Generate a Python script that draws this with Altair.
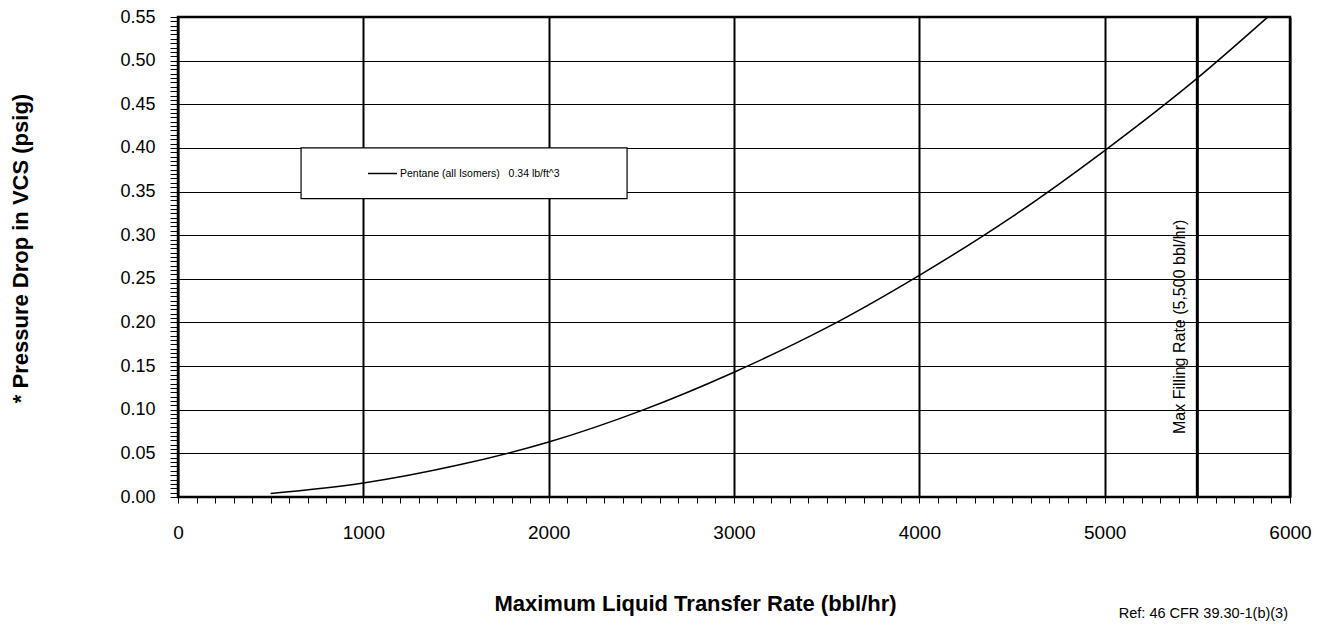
import altair as alt
import pandas as pd

# ---- data ----
RATE = [500, 1000, 1500, 2000, 2500, 3000, 3500, 4000, 4500, 5000, 5500, 5880]
PDROP = [0.004, 0.016, 0.036, 0.063, 0.099, 0.143, 0.194, 0.254, 0.321, 0.397, 0.480, 0.550]
SERIES = "Pentane (all Isomers)\u00a0\u00a0 0.34 lb/ft^3"

MAX_RATE = [5500]
MAX_LABEL = ["Max Filling Rate (5,500 bbl/hr)"]
MAX_LABEL_Y = [0.195]

LEGEND_BOX_RATE = [664, 2423]
LEGEND_BOX_PDROP = [0.342, 0.400]

X_TICKS = list(range(0, 6001, 100))
Y_TICKS = [round(i * 0.005, 3) for i in range(0, 111)]

X_TITLE = "Maximum Liquid Transfer Rate (bbl/hr)"
Y_TITLE = "* Pressure Drop in VCS (psig)"
REF_TEXT = ["Ref: 46 CFR 39.30-1(b)(3)"]

FONT = "Liberation Sans"

curve_df = pd.DataFrame({"rate": RATE, "pdrop": PDROP, "series": [SERIES] * len(RATE)})
box_df = pd.DataFrame({"rate": [LEGEND_BOX_RATE[0]], "rate2": [LEGEND_BOX_RATE[1]],
                       "pdrop": [LEGEND_BOX_PDROP[0]], "pdrop2": [LEGEND_BOX_PDROP[1]]})
rule_df = pd.DataFrame({"rate": MAX_RATE, "pdrop": MAX_LABEL_Y, "label": MAX_LABEL})
ref_df = pd.DataFrame({"label": REF_TEXT})

x_scale = alt.Scale(domain=[0, 6000], nice=False, zero=False)
y_scale = alt.Scale(domain=[0, 0.55], nice=False, zero=False)

x_axis = alt.Axis(
    values=X_TICKS, format="d",
    labelExpr="datum.value % 1000 === 0 ? datum.label : ''",
    labelOverlap=False, labelFlush=False,
    labelFont=FONT, labelFontSize=19, labelColor="black", labelPadding=20,
    tickSize=6, tickColor="black", tickWidth=1,
    grid=True, gridColor="black", gridWidth=2,
    gridOpacity={"condition": {"test": "datum.value % 1000 === 0", "value": 1}, "value": 0},
    domain=False,
    title=X_TITLE, titleFont=FONT, titleFontSize=22, titleFontWeight="bold",
    titleColor="black", titleX=517, titleY=106, titleAlign="center", titleBaseline="middle",
)
y_axis = alt.Axis(
    values=Y_TICKS, format=".2f",
    labelExpr="abs(datum.value * 20 - round(datum.value * 20)) < 1e-6 ? datum.label : ''",
    labelOverlap=False, labelFlush=False,
    labelFont=FONT, labelFontSize=18, labelColor="black", labelPadding=15,
    tickSize=8, tickColor="black", tickWidth=1,
    grid=True, gridColor="black", gridWidth=1,
    gridOpacity={"condition": {"test": "abs(datum.value * 20 - round(datum.value * 20)) < 1e-6", "value": 1}, "value": 0},
    domain=False,
    title=Y_TITLE, titleFont=FONT, titleFontSize=22, titleFontWeight="bold",
    titleColor="black", titleX=-158, titleY=231, titleAngle=270,
    titleAlign="center", titleBaseline="middle",
)

box = alt.Chart(box_df).mark_rect(fill="white", stroke="black", strokeWidth=1.2).encode(
    x=alt.X("rate:Q", scale=x_scale, axis=x_axis),
    x2="rate2:Q",
    y=alt.Y("pdrop:Q", scale=y_scale, axis=y_axis),
    y2="pdrop2:Q",
)

curve = alt.Chart(curve_df).mark_line(strokeWidth=1.5, interpolate="monotone").encode(
    x=alt.X("rate:Q", scale=x_scale, axis=x_axis),
    y=alt.Y("pdrop:Q", scale=y_scale, axis=y_axis),
    color=alt.Color("series:N", scale=alt.Scale(range=["black"]),
                    legend=alt.Legend(orient="none", legendX=189, legendY=141, title=None,
                                      symbolType="stroke", symbolSize=841,
                                      symbolStrokeWidth=1.5, symbolStrokeColor="black",
                                      labelFont=FONT, labelFontSize=10.5, labelColor="black",
                                      labelOffset=2, padding=0, labelLimit=400)),
)

rule = alt.Chart(rule_df).mark_rule(color="black", strokeWidth=3).encode(
    x=alt.X("rate:Q", scale=x_scale, axis=x_axis),
)

rule_text = alt.Chart(rule_df).mark_text(
    angle=270, font=FONT, fontSize=16, color="black", align="center", baseline="middle", dy=-17
).encode(
    x=alt.X("rate:Q", scale=x_scale, axis=x_axis),
    y=alt.Y("pdrop:Q", scale=y_scale, axis=y_axis),
    text="label:N",
)

ref = alt.Chart(ref_df).mark_text(
    font=FONT, fontSize=14.5, color="black", align="right", baseline="alphabetic"
).encode(
    x=alt.value(1110), y=alt.value(601), text="label:N",
)

chart = alt.layer(box, curve, rule, rule_text, ref).properties(
    width=1112, height=480,
    autosize=alt.AutoSizeParams(type="none"),
    padding={"left": 170, "top": 9, "right": 27, "bottom": 124},
    background="white",
).configure_view(stroke="black", strokeWidth=2.5)

chart.save("out.html", embed_options={"renderer": "svg", "actions": False})
